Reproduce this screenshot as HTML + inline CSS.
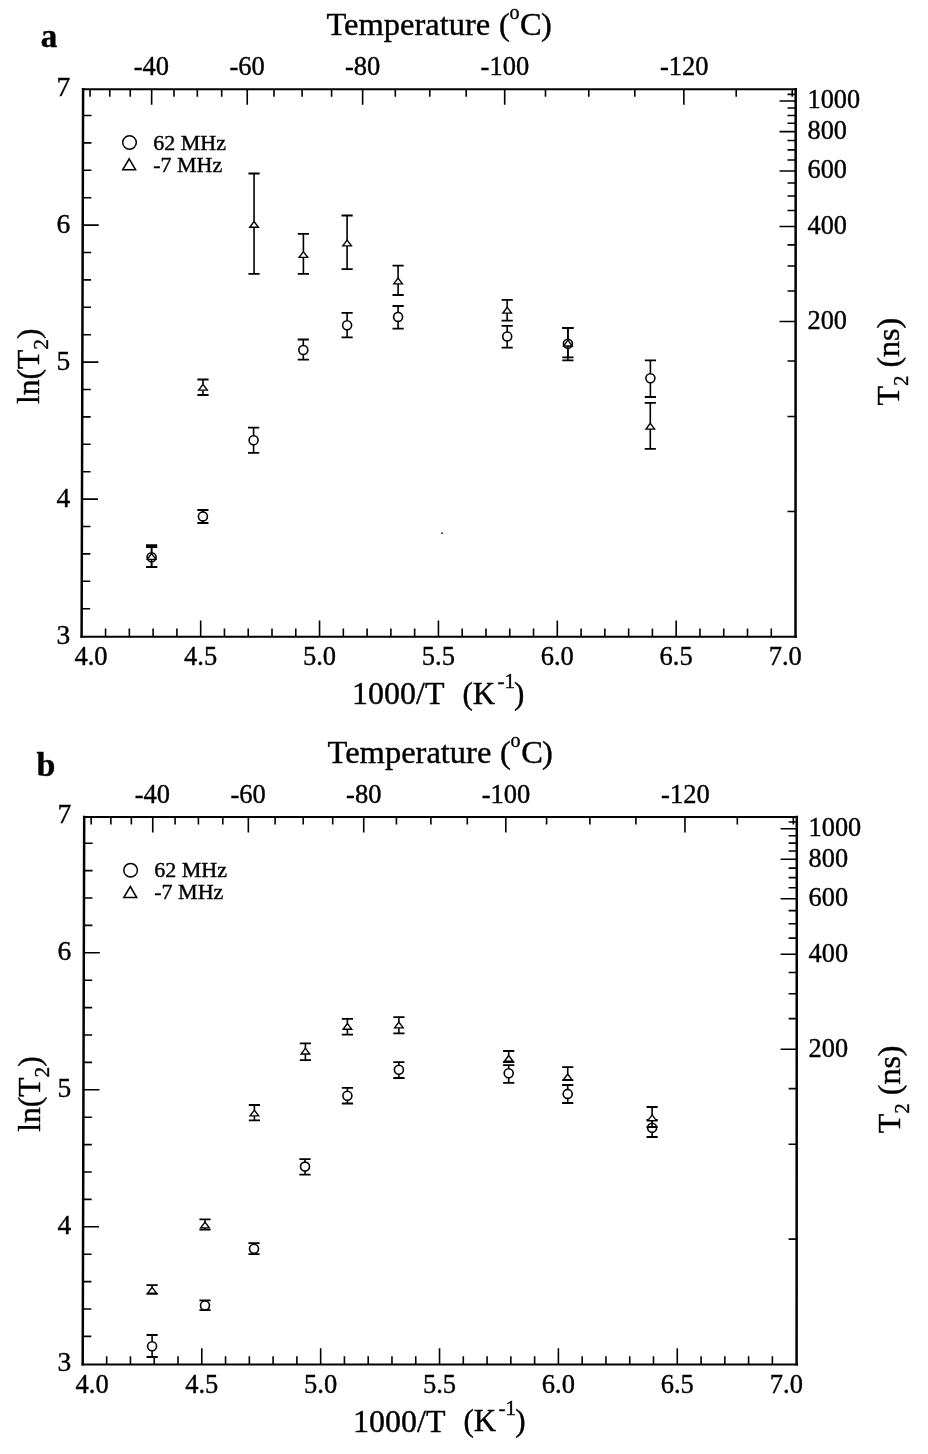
<!DOCTYPE html>
<html><head><meta charset="utf-8"><style>
html,body{margin:0;padding:0;background:#fff;}
svg{display:block;filter:grayscale(1);}
text{font-family:"Liberation Serif", serif;fill:#000;stroke:#000;stroke-width:0.4px;}
</style></head><body>
<svg width="928" height="1454" viewBox="0 0 928 1454">
<rect width="928" height="1454" fill="#fff"/>
<text x="40.8" y="46.6" font-size="33" font-weight="bold">a</text>
<text x="36.6" y="775.5" font-size="34" font-weight="bold">b</text>
<g id="pa">
<path d="M81.9 89.3H797M80.5 636.8H797" fill="none" stroke="#000" stroke-width="2"/>
<path d="M795.7 88.1L795.5 637.7M83.1 88.1L81.6 637.7" fill="none" stroke="#000" stroke-width="2.5"/>
<path d="M105.57 636.6v-8M129.35 636.6v-8M153.12 636.6v-8M176.9 636.6v-8M200.68 636.6v-16M224.45 636.6v-8M248.23 636.6v-8M272 636.6v-8M295.78 636.6v-8M319.55 636.6v-16M343.32 636.6v-8M367.1 636.6v-8M390.87 636.6v-8M414.65 636.6v-8M438.43 636.6v-16M462.2 636.6v-8M485.98 636.6v-8M509.75 636.6v-8M533.53 636.6v-8M557.3 636.6v-16M581.07 636.6v-8M604.85 636.6v-8M628.63 636.6v-8M652.4 636.6v-8M676.17 636.6v-16M699.95 636.6v-8M723.73 636.6v-8M747.5 636.6v-8M771.28 636.6v-8M90.07 89.3v7.5M109.76 89.3v7.5M130.26 89.3v7.5M151.65 89.3v15.5M173.98 89.3v7.5M197.31 89.3v7.5M221.7 89.3v7.5M247.24 89.3v15.5M274.01 89.3v7.5M302.1 89.3v7.5M331.6 89.3v7.5M362.63 89.3v15.5M395.32 89.3v7.5M429.78 89.3v7.5M466.19 89.3v7.5M504.69 89.3v15.5M545.49 89.3v7.5M588.78 89.3v7.5M634.82 89.3v7.5M683.86 89.3v15.5M736.22 89.3v7.5M792.23 89.3v7.5M81.68 608.7h8.5M81.75 581.3h8.5M81.83 553.9h8.5M81.9 526.5h8.5M81.98 499.1h16M82.05 471.7h8.5M82.13 444.3h8.5M82.2 416.9h8.5M82.28 389.5h8.5M82.35 362.1h16M82.43 334.7h8.5M82.5 307.3h8.5M82.58 279.9h8.5M82.65 252.5h8.5M82.73 225.1h16M82.8 197.7h8.5M82.88 170.3h8.5M82.95 142.9h8.5M83.03 115.5h8.5M795.5 511.45h-8M795.5 416.49h-8M795.5 360.94h-8M795.5 321.53h-16M795.5 290.96h-8M795.5 265.98h-8M795.5 244.86h-8M795.5 226.57h-16M795.5 210.43h-8M795.5 196h-8M795.5 182.94h-8M795.5 171.02h-16M795.5 160.05h-8M795.5 149.9h-8M795.5 140.45h-8M795.5 131.61h-16M795.5 123.3h-8M795.5 115.47h-8M795.5 108.06h-8M795.5 101.04h-16M795.5 94.35h-8" fill="none" stroke="#000" stroke-width="1.6"/>
<text x="70.2" y="643.7" text-anchor="end" font-size="27.5">3</text>
<text x="70.2" y="506.7" text-anchor="end" font-size="27.5">4</text>
<text x="70.2" y="369.7" text-anchor="end" font-size="27.5">5</text>
<text x="70.2" y="232.7" text-anchor="end" font-size="27.5">6</text>
<text x="70.2" y="95.7" text-anchor="end" font-size="27.5">7</text>
<text x="91" y="665.2" text-anchor="middle" font-size="26.5">4.0</text>
<text x="200.68" y="665.2" text-anchor="middle" font-size="26.5">4.5</text>
<text x="319.55" y="665.2" text-anchor="middle" font-size="26.5">5.0</text>
<text x="438.43" y="665.2" text-anchor="middle" font-size="26.5">5.5</text>
<text x="557.3" y="665.2" text-anchor="middle" font-size="26.5">6.0</text>
<text x="676.17" y="665.2" text-anchor="middle" font-size="26.5">6.5</text>
<text x="785.25" y="665.2" text-anchor="middle" font-size="26.5">7.0</text>
<text x="151.35" y="75.2" text-anchor="middle" font-size="26.5">-40</text>
<text x="247.07" y="75.2" text-anchor="middle" font-size="26.5">-60</text>
<text x="362.63" y="75.2" text-anchor="middle" font-size="26.5">-80</text>
<text x="504.88" y="75.2" text-anchor="middle" font-size="26.5">-100</text>
<text x="684.31" y="75.2" text-anchor="middle" font-size="26.5">-120</text>
<text x="807.5" y="108.44" font-size="26.3">1000</text>
<text x="807.5" y="139.01" font-size="26.3">800</text>
<text x="807.5" y="178.42" font-size="26.3">600</text>
<text x="807.5" y="233.97" font-size="26.3">400</text>
<text x="807.5" y="328.93" font-size="26.3">200</text>
<text x="326.5" y="35.4" font-size="32.5">Temperature</text><text x="498.9" y="35.4" font-size="32.5">(</text><text x="509.4" y="19" font-size="20">o</text><text x="520.1" y="35.4" font-size="32.5">C</text><text x="541" y="35.4" font-size="32.5">)</text>
<text x="352" y="703.9" font-size="32">1000/T</text><text x="462.4" y="703.6" font-size="31">(K</text><text x="497.5" y="687.8" font-size="21">-1</text><text x="514.1" y="703.6" font-size="31">)</text>
<text transform="translate(38.7,404) rotate(-90)" font-size="31.5">ln(T<tspan dy="9" font-size="21.5">2</tspan><tspan dy="-9">)</tspan></text>
<text transform="translate(898.8,405.6) rotate(-90)" font-size="32">T<tspan dy="9" font-size="21">2</tspan><tspan dy="-9"> (ns)</tspan></text>
<circle cx="129.5" cy="142.5" r="6.8" fill="none" stroke="#000" stroke-width="1.5"/>
<path d="M129.2 158.8L135.6 169.8H122.7Z" fill="none" stroke="#000" stroke-width="1.5" stroke-linejoin="miter"/>
<text x="153.2" y="149.8" font-size="22">62 MHz</text>
<text x="153.2" y="171.6" font-size="22">-7 MHz</text>
</g>
<g transform="translate(1.1,727.7)">
<path d="M81.9 89.3H797M80.5 636.8H797" fill="none" stroke="#000" stroke-width="2"/>
<path d="M795.7 88.1L795.5 637.7M83.1 88.1L81.6 637.7" fill="none" stroke="#000" stroke-width="2.5"/>
<path d="M105.57 636.6v-8M129.35 636.6v-8M153.12 636.6v-8M176.9 636.6v-8M200.68 636.6v-16M224.45 636.6v-8M248.23 636.6v-8M272 636.6v-8M295.78 636.6v-8M319.55 636.6v-16M343.32 636.6v-8M367.1 636.6v-8M390.87 636.6v-8M414.65 636.6v-8M438.43 636.6v-16M462.2 636.6v-8M485.98 636.6v-8M509.75 636.6v-8M533.53 636.6v-8M557.3 636.6v-16M581.07 636.6v-8M604.85 636.6v-8M628.63 636.6v-8M652.4 636.6v-8M676.17 636.6v-16M699.95 636.6v-8M723.73 636.6v-8M747.5 636.6v-8M771.28 636.6v-8M90.07 89.3v7.5M109.76 89.3v7.5M130.26 89.3v7.5M151.65 89.3v15.5M173.98 89.3v7.5M197.31 89.3v7.5M221.7 89.3v7.5M247.24 89.3v15.5M274.01 89.3v7.5M302.1 89.3v7.5M331.6 89.3v7.5M362.63 89.3v15.5M395.32 89.3v7.5M429.78 89.3v7.5M466.19 89.3v7.5M504.69 89.3v15.5M545.49 89.3v7.5M588.78 89.3v7.5M634.82 89.3v7.5M683.86 89.3v15.5M736.22 89.3v7.5M792.23 89.3v7.5M81.68 608.7h8.5M81.75 581.3h8.5M81.83 553.9h8.5M81.9 526.5h8.5M81.98 499.1h16M82.05 471.7h8.5M82.13 444.3h8.5M82.2 416.9h8.5M82.28 389.5h8.5M82.35 362.1h16M82.43 334.7h8.5M82.5 307.3h8.5M82.58 279.9h8.5M82.65 252.5h8.5M82.73 225.1h16M82.8 197.7h8.5M82.88 170.3h8.5M82.95 142.9h8.5M83.03 115.5h8.5M795.5 511.45h-8M795.5 416.49h-8M795.5 360.94h-8M795.5 321.53h-16M795.5 290.96h-8M795.5 265.98h-8M795.5 244.86h-8M795.5 226.57h-16M795.5 210.43h-8M795.5 196h-8M795.5 182.94h-8M795.5 171.02h-16M795.5 160.05h-8M795.5 149.9h-8M795.5 140.45h-8M795.5 131.61h-16M795.5 123.3h-8M795.5 115.47h-8M795.5 108.06h-8M795.5 101.04h-16M795.5 94.35h-8" fill="none" stroke="#000" stroke-width="1.6"/>
<text x="70.2" y="643.7" text-anchor="end" font-size="27.5">3</text>
<text x="70.2" y="506.7" text-anchor="end" font-size="27.5">4</text>
<text x="70.2" y="369.7" text-anchor="end" font-size="27.5">5</text>
<text x="70.2" y="232.7" text-anchor="end" font-size="27.5">6</text>
<text x="70.2" y="95.7" text-anchor="end" font-size="27.5">7</text>
<text x="91" y="665.2" text-anchor="middle" font-size="26.5">4.0</text>
<text x="200.68" y="665.2" text-anchor="middle" font-size="26.5">4.5</text>
<text x="319.55" y="665.2" text-anchor="middle" font-size="26.5">5.0</text>
<text x="438.43" y="665.2" text-anchor="middle" font-size="26.5">5.5</text>
<text x="557.3" y="665.2" text-anchor="middle" font-size="26.5">6.0</text>
<text x="676.17" y="665.2" text-anchor="middle" font-size="26.5">6.5</text>
<text x="785.25" y="665.2" text-anchor="middle" font-size="26.5">7.0</text>
<text x="151.35" y="75.2" text-anchor="middle" font-size="26.5">-40</text>
<text x="247.07" y="75.2" text-anchor="middle" font-size="26.5">-60</text>
<text x="362.63" y="75.2" text-anchor="middle" font-size="26.5">-80</text>
<text x="504.88" y="75.2" text-anchor="middle" font-size="26.5">-100</text>
<text x="684.31" y="75.2" text-anchor="middle" font-size="26.5">-120</text>
<text x="807.5" y="108.44" font-size="26.3">1000</text>
<text x="807.5" y="139.01" font-size="26.3">800</text>
<text x="807.5" y="178.42" font-size="26.3">600</text>
<text x="807.5" y="233.97" font-size="26.3">400</text>
<text x="807.5" y="328.93" font-size="26.3">200</text>
<text x="326.5" y="35.4" font-size="32.5">Temperature</text><text x="498.9" y="35.4" font-size="32.5">(</text><text x="509.4" y="19" font-size="20">o</text><text x="520.1" y="35.4" font-size="32.5">C</text><text x="541" y="35.4" font-size="32.5">)</text>
<text x="352" y="703.9" font-size="32">1000/T</text><text x="462.4" y="703.6" font-size="31">(K</text><text x="497.5" y="687.8" font-size="21">-1</text><text x="514.1" y="703.6" font-size="31">)</text>
<text transform="translate(38.7,404) rotate(-90)" font-size="31.5">ln(T<tspan dy="9" font-size="21.5">2</tspan><tspan dy="-9">)</tspan></text>
<text transform="translate(898.8,405.6) rotate(-90)" font-size="32">T<tspan dy="9" font-size="21">2</tspan><tspan dy="-9"> (ns)</tspan></text>
<circle cx="129.5" cy="142.5" r="6.8" fill="none" stroke="#000" stroke-width="1.5"/>
<path d="M129.2 158.8L135.6 169.8H122.7Z" fill="none" stroke="#000" stroke-width="1.5" stroke-linejoin="miter"/>
<text x="153.2" y="149.8" font-size="22">62 MHz</text>
<text x="153.2" y="171.6" font-size="22">-7 MHz</text>
</g>
<g fill="none" stroke="#000">
<path d="M146 547h11.2M146 567h11.2" stroke-width="1.8"/><path d="M151.6 547V552.7M151.6 561.7V567" stroke-width="1.6"/><circle cx="151.6" cy="557.2" r="4.5" fill="#fff" stroke-width="1.6"/>
<path d="M197.3 510h11.2M197.3 523h11.2" stroke-width="1.8"/><path d="M202.9 510V511.9M202.9 520.9V523" stroke-width="1.6"/><circle cx="202.9" cy="516.4" r="4.5" fill="#fff" stroke-width="1.6"/>
<path d="M248 427.7h11.2M248 452.9h11.2" stroke-width="1.8"/><path d="M253.6 427.7V435.8M253.6 444.8V452.9" stroke-width="1.6"/><circle cx="253.6" cy="440.3" r="4.5" fill="#fff" stroke-width="1.6"/>
<path d="M297.7 339.5h11.2M297.7 359.6h11.2" stroke-width="1.8"/><path d="M303.3 339.5V345.5M303.3 354.5V359.6" stroke-width="1.6"/><circle cx="303.3" cy="350" r="4.5" fill="#fff" stroke-width="1.6"/>
<path d="M341.5 312.8h11.2M341.5 337.3h11.2" stroke-width="1.8"/><path d="M347.1 312.8V320.7M347.1 329.7V337.3" stroke-width="1.6"/><circle cx="347.1" cy="325.2" r="4.5" fill="#fff" stroke-width="1.6"/>
<path d="M392.5 306h11.2M392.5 328.7h11.2" stroke-width="1.8"/><path d="M398.1 306V312.4M398.1 321.4V328.7" stroke-width="1.6"/><circle cx="398.1" cy="316.9" r="4.5" fill="#fff" stroke-width="1.6"/>
<path d="M501.6 325.9h11.2M501.6 347.6h11.2" stroke-width="1.8"/><path d="M507.2 325.9V332M507.2 341V347.6" stroke-width="1.6"/><circle cx="507.2" cy="336.5" r="4.5" fill="#fff" stroke-width="1.6"/>
<path d="M562.3 328h11.2M562.3 360.3h11.2" stroke-width="1.8"/><path d="M567.9 328V339.3M567.9 348.3V360.3" stroke-width="1.6"/><circle cx="567.9" cy="343.8" r="4.5" fill="#fff" stroke-width="1.6"/>
<path d="M644.8 360.3h11.2M644.8 397h11.2" stroke-width="1.8"/><path d="M650.4 360.3V373.7M650.4 382.7V397" stroke-width="1.6"/><circle cx="650.4" cy="378.2" r="4.5" fill="#fff" stroke-width="1.6"/>
<path d="M146 545.2h11.2M146 567h11.2" stroke-width="1.8"/><path d="M151.6 545.2V553.6M151.6 559.4V567" stroke-width="1.6"/><path d="M151.6 553.6L155.9 559.4H147.3Z" fill="#fff" stroke-width="1.4" stroke-linejoin="miter"/>
<path d="M197.4 379.5h11.2M197.4 395h11.2" stroke-width="1.8"/><path d="M203 379.5V384.35M203 390.15V395" stroke-width="1.6"/><path d="M203 384.35L207.3 390.15H198.7Z" fill="#fff" stroke-width="1.4" stroke-linejoin="miter"/>
<path d="M248.45 173.5h11.2M248.45 273.9h11.2" stroke-width="1.8"/><path d="M254.05 173.5V221.5M254.05 227.3V273.9" stroke-width="1.6"/><path d="M254.05 221.5L258.35 227.3H249.75Z" fill="#fff" stroke-width="1.4" stroke-linejoin="miter"/>
<path d="M297.8 233.9h11.2M297.8 273.9h11.2" stroke-width="1.8"/><path d="M303.4 233.9V251.6M303.4 257.4V273.9" stroke-width="1.6"/><path d="M303.4 251.6L307.7 257.4H299.1Z" fill="#fff" stroke-width="1.4" stroke-linejoin="miter"/>
<path d="M341.5 215.5h11.2M341.5 269.1h11.2" stroke-width="1.8"/><path d="M347.1 215.5V240.1M347.1 245.9V269.1" stroke-width="1.6"/><path d="M347.1 240.1L351.4 245.9H342.8Z" fill="#fff" stroke-width="1.4" stroke-linejoin="miter"/>
<path d="M392.5 265.6h11.2M392.5 295h11.2" stroke-width="1.8"/><path d="M398.1 265.6V278.1M398.1 283.9V295" stroke-width="1.6"/><path d="M398.1 278.1L402.4 283.9H393.8Z" fill="#fff" stroke-width="1.4" stroke-linejoin="miter"/>
<path d="M501.6 299.8h11.2M501.6 320.7h11.2" stroke-width="1.8"/><path d="M507.2 299.8V307.3M507.2 313.1V320.7" stroke-width="1.6"/><path d="M507.2 307.3L511.5 313.1H502.9Z" fill="#fff" stroke-width="1.4" stroke-linejoin="miter"/>
<path d="M562.3 328h11.2M562.3 357.4h11.2" stroke-width="1.8"/><path d="M567.9 328V340.2M567.9 346V357.4" stroke-width="1.6"/><path d="M567.9 340.2L572.2 346H563.6Z" fill="#fff" stroke-width="1.4" stroke-linejoin="miter"/>
<path d="M644.7 402.8h11.2M644.7 448.8h11.2" stroke-width="1.8"/><path d="M650.3 402.8V423.3M650.3 429.1V448.8" stroke-width="1.6"/><path d="M650.3 423.3L654.6 429.1H646Z" fill="#fff" stroke-width="1.4" stroke-linejoin="miter"/>
</g>
<rect x="441" y="532.5" width="2" height="1.4" fill="#333"/>
<g fill="none" stroke="#000">
<path d="M146.5 1335h11.2M146.5 1357h11.2" stroke-width="1.8"/><path d="M152.1 1335V1341.7M152.1 1350.7V1357" stroke-width="1.6"/><circle cx="152.1" cy="1346.2" r="4.5" fill="#fff" stroke-width="1.6"/>
<path d="M199.4 1300.4h11.2M199.4 1310.1h11.2" stroke-width="1.8"/><path d="M205 1300.4V1300.9M205 1309.9V1310.1" stroke-width="1.6"/><circle cx="205" cy="1305.4" r="4.5" fill="#fff" stroke-width="1.6"/>
<path d="M248.4 1243.1h11.2M248.4 1254.2h11.2" stroke-width="1.8"/><path d="M254 1243.1V1244.2M254 1253.2V1254.2" stroke-width="1.6"/><circle cx="254" cy="1248.7" r="4.5" fill="#fff" stroke-width="1.6"/>
<path d="M299.4 1159.1h11.2M299.4 1174.6h11.2" stroke-width="1.8"/><path d="M305 1159.1V1162.1M305 1171.1V1174.6" stroke-width="1.6"/><circle cx="305" cy="1166.6" r="4.5" fill="#fff" stroke-width="1.6"/>
<path d="M341.8 1087.9h11.2M341.8 1103.5h11.2" stroke-width="1.8"/><path d="M347.4 1087.9V1091.2M347.4 1100.2V1103.5" stroke-width="1.6"/><circle cx="347.4" cy="1095.7" r="4.5" fill="#fff" stroke-width="1.6"/>
<path d="M393.3 1062.1h11.2M393.3 1078h11.2" stroke-width="1.8"/><path d="M398.9 1062.1V1065.3M398.9 1074.3V1078" stroke-width="1.6"/><circle cx="398.9" cy="1069.8" r="4.5" fill="#fff" stroke-width="1.6"/>
<path d="M503.1 1065.2h11.2M503.1 1082.8h11.2" stroke-width="1.8"/><path d="M508.7 1065.2V1068.8M508.7 1077.8V1082.8" stroke-width="1.6"/><circle cx="508.7" cy="1073.3" r="4.5" fill="#fff" stroke-width="1.6"/>
<path d="M562.1 1085h11.2M562.1 1103h11.2" stroke-width="1.8"/><path d="M567.7 1085V1089.4M567.7 1098.4V1103" stroke-width="1.6"/><circle cx="567.7" cy="1093.9" r="4.5" fill="#fff" stroke-width="1.6"/>
<path d="M646.5 1120h11.2M646.5 1137h11.2" stroke-width="1.8"/><path d="M652.1 1120V1123.2M652.1 1132.2V1137" stroke-width="1.6"/><circle cx="652.1" cy="1127.7" r="4.5" fill="#fff" stroke-width="1.6"/>
<path d="M146.5 1285.1h11.2M146.5 1293.8h11.2" stroke-width="1.8"/><path d="M152.1 1285.1V1287.3M152.1 1293.1V1293.8" stroke-width="1.6"/><path d="M152.1 1287.3L156.4 1293.1H147.8Z" fill="#fff" stroke-width="1.4" stroke-linejoin="miter"/>
<path d="M199.4 1219.4h11.2M199.4 1229.6h11.2" stroke-width="1.8"/><path d="M205 1219.4V1222.1M205 1227.9V1229.6" stroke-width="1.6"/><path d="M205 1222.1L209.3 1227.9H200.7Z" fill="#fff" stroke-width="1.4" stroke-linejoin="miter"/>
<path d="M248.8 1105h11.2M248.8 1120.4h11.2" stroke-width="1.8"/><path d="M254.4 1105V1110.1M254.4 1115.9V1120.4" stroke-width="1.6"/><path d="M254.4 1110.1L258.7 1115.9H250.1Z" fill="#fff" stroke-width="1.4" stroke-linejoin="miter"/>
<path d="M299.8 1043.4h11.2M299.8 1060.1h11.2" stroke-width="1.8"/><path d="M305.4 1043.4V1048.2M305.4 1054V1060.1" stroke-width="1.6"/><path d="M305.4 1048.2L309.7 1054H301.1Z" fill="#fff" stroke-width="1.4" stroke-linejoin="miter"/>
<path d="M341.8 1018.8h11.2M341.8 1034.7h11.2" stroke-width="1.8"/><path d="M347.4 1018.8V1023.5M347.4 1029.3V1034.7" stroke-width="1.6"/><path d="M347.4 1023.5L351.7 1029.3H343.1Z" fill="#fff" stroke-width="1.4" stroke-linejoin="miter"/>
<path d="M393.3 1017.1h11.2M393.3 1033.4h11.2" stroke-width="1.8"/><path d="M398.9 1017.1V1022.1M398.9 1027.9V1033.4" stroke-width="1.6"/><path d="M398.9 1022.1L403.2 1027.9H394.6Z" fill="#fff" stroke-width="1.4" stroke-linejoin="miter"/>
<path d="M503.1 1051h11.2M503.1 1062h11.2" stroke-width="1.8"/><path d="M508.7 1051V1055.5M508.7 1061.3V1062" stroke-width="1.6"/><path d="M508.7 1055.5L513 1061.3H504.4Z" fill="#fff" stroke-width="1.4" stroke-linejoin="miter"/>
<path d="M562.1 1067.1h11.2M562.1 1080.2h11.2" stroke-width="1.8"/><path d="M567.7 1067.1V1074M567.7 1079.8V1080.2" stroke-width="1.6"/><path d="M567.7 1074L572 1079.8H563.4Z" fill="#fff" stroke-width="1.4" stroke-linejoin="miter"/>
<path d="M646.5 1107h11.2M646.5 1127h11.2" stroke-width="1.8"/><path d="M652.1 1107V1114.9M652.1 1120.7V1127" stroke-width="1.6"/><path d="M652.1 1114.9L656.4 1120.7H647.8Z" fill="#fff" stroke-width="1.4" stroke-linejoin="miter"/>
</g>
</svg>
</body></html>
